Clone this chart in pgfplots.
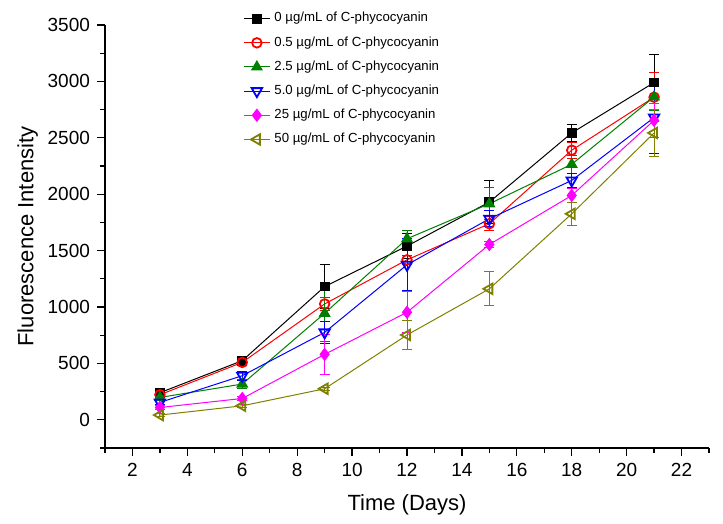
\documentclass[border=0pt]{standalone}
\usepackage{pgfplots}
\pgfplotsset{compat=1.18}
\usepackage{pgfplotstable}
\usepackage{fontspec}
\setmainfont{Liberation Sans}
\definecolor{cblack}{RGB}{0,0,0}
\definecolor{cred}{RGB}{255,0,0}
\definecolor{cgreen}{RGB}{0,128,0}
\definecolor{cblue}{RGB}{0,0,255}
\definecolor{cmag}{RGB}{255,0,255}
\definecolor{colive}{RGB}{128,128,0}
\pgfplotstableread{
x y e
3 240 20
6 524 15
9 1181 195
12 1540 110
15 1930 190
18 2543 75
21 2990 245
}\tblack
\pgfplotstableread{
x y e
3 222 15
6 509 30
9 1027 60
12 1418 40
15 1738 60
18 2390 70
21 2860 215
}\tred
\pgfplotstableread{
x y e
3 198 20
6 317 40
9 944 250
12 1605 70
15 1915 140
18 2265 80
21 2862 120
}\tgreen
\pgfplotstableread{
x y e
3 154 15
6 391 40
9 775 100
12 1374 230
15 1782 70
18 2122 60
21 2680 320
}\tblue
\pgfplotstableread{
x y e
3 109 15
6 189 15
9 580 175
12 953 180
15 1554 30
18 1989 60
21 2655 150
}\tmag
\pgfplotstableread{
x y e
3 42 15
6 124 15
9 275 15
12 752 130
15 1161 150
18 1826 100
21 2543 210
}\tolive
\begin{document}
\begin{tikzpicture}
\begin{axis}[
  scale only axis,
  width=302pt, height=211.5pt,
  xmin=1, xmax=23, ymin=-250, ymax=3500,
  axis x line=bottom, axis y line=left,
  axis line style={-, line width=0.6pt},
  xtick={2,4,...,22}, minor xtick={1,3,...,23},
  ytick={0,500,...,3500}, minor ytick={-250,250,...,3250},
  tick align=outside,
  major tick length=4pt, minor tick length=2.5pt,
  tick style={line width=0.6pt, black},
  every tick label/.append style={font=\fontsize{9.5}{11}\selectfont},
  /pgf/number format/assume math mode=true,
  /pgf/number format/set thousands separator={},
  xlabel={Time (Days)}, ylabel={Fluorescence Intensity},
  label style={font=\fontsize{11}{13}\selectfont},
  xlabel style={yshift=-2pt},
  ylabel style={yshift=-2pt},
  legend style={draw=none, fill=none, at={(rel axis cs:0.225,1.045)}, anchor=north west,
    font=\fontsize{6.6}{7.9}\selectfont, row sep=1.8pt, inner sep=1pt, cells={anchor=west}},
  legend image code/.code={\draw[mark repeat=2,mark phase=2] plot coordinates {(0cm,0cm)(0.23cm,0cm)(0.46cm,0cm)};},
  every axis plot/.append style={line width=0.5pt},
  error bars/y dir=both, error bars/y explicit,
  error bars/error mark options={rotate=90, mark size=2.5pt, line width=0.5pt},
]
\addplot[cblack, mark=square*, mark size=2.2pt, mark options={solid, fill=cblack},
  error bars/error bar style={cblack, line width=0.5pt}] table[x=x,y=y,y error=e]{\tblack};
\addlegendentry{0 µg/mL of C-phycocyanin}
\addplot[cred, mark=o, mark size=2.4pt, mark options={solid, fill=white, line width=0.9pt},
  error bars/error bar style={cred, line width=0.5pt}] table[x=x,y=y,y error=e]{\tred};
\addlegendentry{0.5 µg/mL of C-phycocyanin}
\addplot[cgreen, mark=triangle*, mark size=3pt, mark options={solid, fill=cgreen},
  error bars/error bar style={cgreen, line width=0.5pt}] table[x=x,y=y,y error=e]{\tgreen};
\addlegendentry{2.5 µg/mL of C-phycocyanin}
\addplot[cblue, mark=triangle, mark size=3pt, mark options={solid, fill=white, rotate=180, line width=0.9pt},
  error bars/error bar style={cblue, line width=0.5pt}] table[x=x,y=y,y error=e]{\tblue};
\addlegendentry{5.0 µg/mL of C-phycocyanin}
\addplot[cmag, mark=diamond*, mark size=3pt, mark options={solid, fill=cmag},
  error bars/error bar style={cmag, line width=0.5pt}] table[x=x,y=y,y error=e]{\tmag};
\addlegendentry{25 µg/mL of C-phycocyanin}
\addplot[colive, mark=triangle, mark size=3pt, mark options={solid, fill=white, rotate=90, line width=0.9pt},
  error bars/error bar style={colive, line width=0.5pt}] table[x=x,y=y,y error=e]{\tolive};
\addlegendentry{50 µg/mL of C-phycocyanin}
\end{axis}
\path ([shift={(-52.5pt,-38pt)}]current axis.south west) rectangle ([shift={(7pt,12.5pt)}]current axis.north east);
\end{tikzpicture}
\end{document}
